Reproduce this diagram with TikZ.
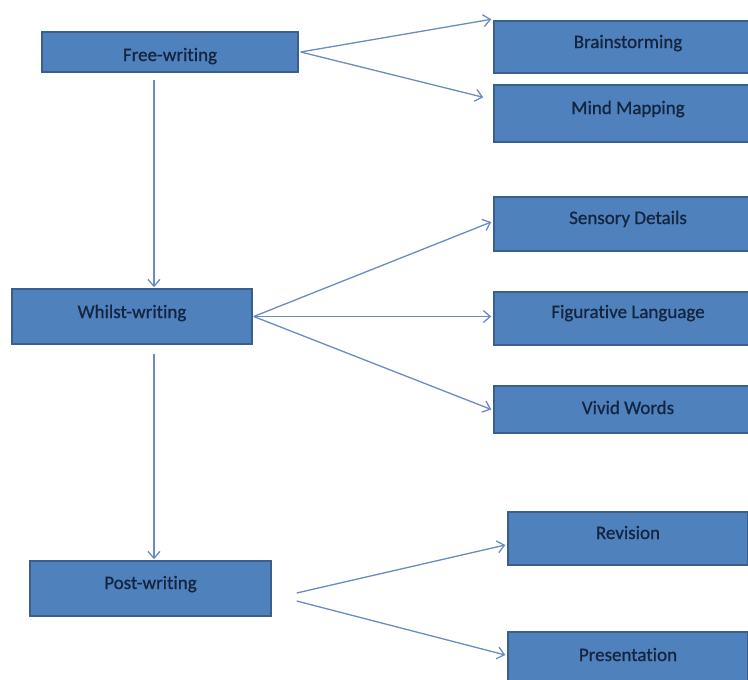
\documentclass[tikz,border=0pt]{standalone}
\usepackage{fontspec}
\setmainfont[Ligatures=NoCommon,FakeBold=0.8]{Carlito}
\usetikzlibrary{arrows.meta}
\definecolor{boxfill}{HTML}{4F81BD}
\definecolor{boxline}{HTML}{3A5F8F}
\definecolor{boxtext}{HTML}{14253F}
\definecolor{arrowcol}{HTML}{6A8CC0}
\tikzset{
  stage/.style={draw=boxline, line width=1.4pt, fill=boxfill, inner sep=0pt,
    text=boxtext, font=\fontsize{19}{22}\selectfont, text depth=2pt,
    text height={#1}},
  conn/.style={draw=arrowcol, line width=1.3pt,
    -{Straight Barb[length=7pt,width=12pt,line width=1.3pt]}},
}
\begin{document}
\begin{tikzpicture}[x=1pt,y=-1pt]
\path[use as bounding box] (0,0) rectangle (748,680);
\clip (0,0) rectangle (748,680);
\fill[white] (0,0) rectangle (748,680);
% left column
\node[stage=20pt, minimum width=256pt, minimum height=40pt] (fw) at (170,52) {Free-writing};
\node[stage=5pt, minimum width=240pt, minimum height=55pt] (ws) at (132,316.5) {Whilst-writing};
\node[stage=3pt, minimum width=241pt, minimum height=55pt] (pw) at (150.5,588.5) {Post-writing};
% right column
\node[stage=4pt, minimum width=268pt, minimum height=52pt] (bs) at (628,47) {Brainstorming};
\node[stage=3pt, minimum width=268pt, minimum height=57pt] (mm) at (628,113.5) {Mind Mapping};
\node[stage=2pt, minimum width=268pt, minimum height=54pt] (sd) at (628,224) {Sensory Details};
\node[stage=1pt, minimum width=268pt, minimum height=53pt] (fl) at (628,318.5) {Figurative Language};
\node[stage=11pt, minimum width=268pt, minimum height=47pt] (vw) at (628,409.5) {Vivid Words};
\node[stage=3pt, minimum width=240pt, minimum height=53pt] (rev) at (628,538.5) {Revision};
\node[stage=7pt, minimum width=240pt, minimum height=53pt] (pres) at (628,658.5) {Presentation};
% connectors
\draw[conn] ([xshift=2pt]fw.east) -- ([xshift=-2pt,yshift=1pt]bs.north west);
\draw[conn] ([xshift=2pt]fw.east) -- ([xshift=-10pt,yshift=-13pt]mm.north west);
\draw[conn] ([xshift=-16pt,yshift=-7pt]fw.south) -- ([xshift=22pt,yshift=1pt]ws.north);
\draw[conn] ([xshift=1pt]ws.east) -- ([xshift=-2pt,yshift=2pt]sd.west);
\draw[conn] ([xshift=1pt]ws.east) -- ([xshift=-2pt,yshift=2pt]fl.west);
\draw[conn] ([xshift=1pt]ws.east) -- ([xshift=-2pt]vw.west);
\draw[conn] ([xshift=22pt,yshift=-9pt]ws.south) -- ([xshift=3.5pt,yshift=1pt]pw.north);
\draw[conn] ([xshift=25pt,yshift=-4.5pt]pw.east) -- ([xshift=-2pt,yshift=-6.5pt]rev.west);
\draw[conn] ([xshift=25pt,yshift=-12.5pt]pw.east) -- ([xshift=-2pt,yshift=3.5pt]pres.west);
\end{tikzpicture}
\end{document}
